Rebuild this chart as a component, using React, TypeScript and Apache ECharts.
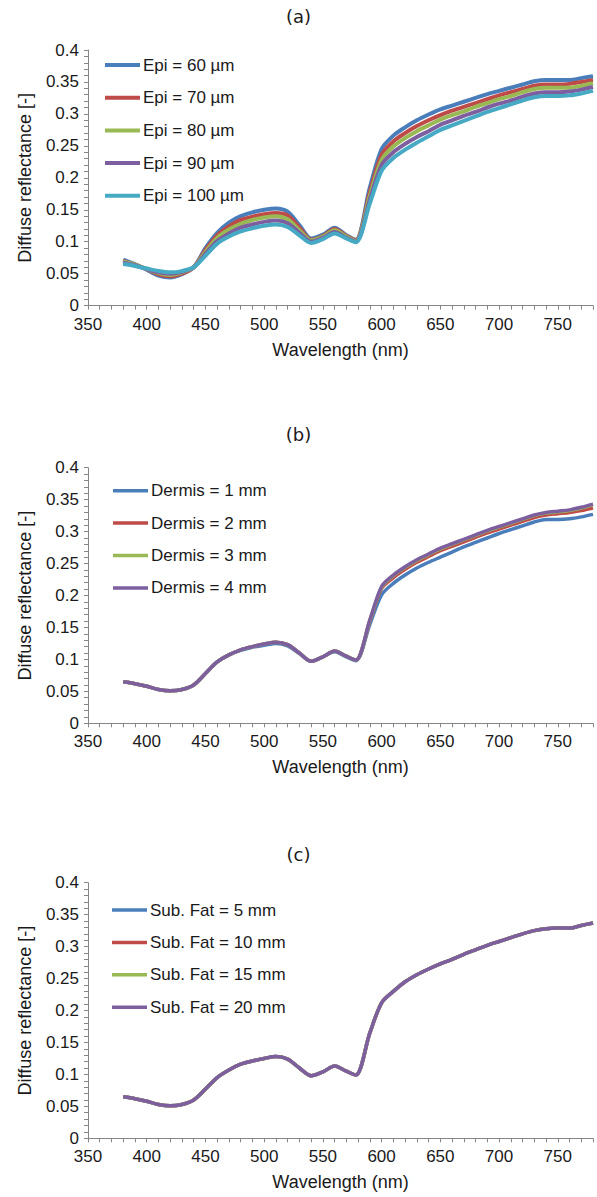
import React, { useEffect, useRef } from "react";
import * as echarts from "echarts";

// Wavelengths (nm)
const wavelengths = [380, 390, 400, 410, 420, 430, 440, 450, 460, 470, 480, 490, 500, 510, 520, 530, 540, 550, 560, 570, 578, 590, 600, 610, 620, 630, 640, 650, 660, 670, 680, 690, 700, 710, 720, 730, 740, 750, 760, 770, 780];

// Panel (a): epidermis thickness
const epi60 = [0.072, 0.065, 0.056, 0.047, 0.044, 0.049, 0.060, 0.090, 0.114, 0.130, 0.140, 0.146, 0.150, 0.152, 0.147, 0.126, 0.105, 0.111, 0.122, 0.110, 0.103, 0.185, 0.245, 0.266, 0.279, 0.290, 0.299, 0.307, 0.313, 0.319, 0.325, 0.331, 0.336, 0.341, 0.346, 0.351, 0.353, 0.353, 0.353, 0.356, 0.359];
const epi70 = [0.070, 0.064, 0.057, 0.049, 0.046, 0.050, 0.060, 0.087, 0.110, 0.124, 0.134, 0.139, 0.143, 0.145, 0.141, 0.122, 0.103, 0.109, 0.120, 0.109, 0.102, 0.178, 0.236, 0.257, 0.270, 0.281, 0.290, 0.298, 0.305, 0.311, 0.317, 0.323, 0.329, 0.334, 0.339, 0.344, 0.346, 0.346, 0.347, 0.350, 0.353];
const epi80 = [0.069, 0.064, 0.057, 0.051, 0.048, 0.052, 0.060, 0.084, 0.106, 0.119, 0.128, 0.134, 0.138, 0.140, 0.135, 0.118, 0.102, 0.108, 0.118, 0.108, 0.101, 0.172, 0.228, 0.249, 0.262, 0.273, 0.282, 0.291, 0.298, 0.304, 0.311, 0.317, 0.323, 0.328, 0.334, 0.339, 0.341, 0.341, 0.341, 0.344, 0.348];
const epi90 = [0.067, 0.063, 0.057, 0.052, 0.050, 0.053, 0.060, 0.081, 0.101, 0.113, 0.122, 0.127, 0.131, 0.133, 0.129, 0.114, 0.100, 0.106, 0.115, 0.106, 0.100, 0.166, 0.220, 0.240, 0.253, 0.264, 0.273, 0.283, 0.290, 0.297, 0.303, 0.310, 0.316, 0.321, 0.327, 0.332, 0.334, 0.334, 0.335, 0.338, 0.342];
const epi100 = [0.065, 0.062, 0.058, 0.054, 0.052, 0.054, 0.060, 0.078, 0.097, 0.108, 0.116, 0.121, 0.125, 0.127, 0.123, 0.110, 0.098, 0.104, 0.113, 0.105, 0.099, 0.160, 0.211, 0.231, 0.244, 0.255, 0.265, 0.275, 0.282, 0.289, 0.296, 0.303, 0.309, 0.315, 0.321, 0.326, 0.328, 0.328, 0.329, 0.332, 0.336];

// Panel (b): dermis thickness
const dermis1 = [0.065, 0.062, 0.058, 0.053, 0.051, 0.053, 0.060, 0.078, 0.096, 0.107, 0.114, 0.119, 0.122, 0.125, 0.121, 0.109, 0.097, 0.104, 0.112, 0.104, 0.098, 0.155, 0.201, 0.219, 0.232, 0.243, 0.252, 0.260, 0.268, 0.276, 0.283, 0.290, 0.297, 0.303, 0.309, 0.315, 0.319, 0.319, 0.320, 0.323, 0.327];
const dermis2 = [0.065, 0.062, 0.058, 0.053, 0.051, 0.053, 0.060, 0.078, 0.096, 0.107, 0.115, 0.120, 0.124, 0.127, 0.123, 0.110, 0.097, 0.104, 0.113, 0.105, 0.099, 0.160, 0.211, 0.228, 0.241, 0.252, 0.261, 0.270, 0.277, 0.284, 0.291, 0.298, 0.304, 0.310, 0.316, 0.322, 0.326, 0.328, 0.330, 0.333, 0.337];
const dermis3 = [0.065, 0.062, 0.058, 0.053, 0.051, 0.053, 0.060, 0.078, 0.096, 0.107, 0.115, 0.120, 0.124, 0.127, 0.123, 0.110, 0.097, 0.104, 0.113, 0.105, 0.099, 0.161, 0.213, 0.231, 0.244, 0.255, 0.264, 0.273, 0.280, 0.287, 0.294, 0.301, 0.307, 0.313, 0.319, 0.325, 0.329, 0.331, 0.333, 0.337, 0.342];
const dermis4 = [0.065, 0.062, 0.058, 0.053, 0.051, 0.053, 0.060, 0.078, 0.096, 0.107, 0.115, 0.120, 0.124, 0.127, 0.123, 0.110, 0.097, 0.104, 0.113, 0.105, 0.099, 0.162, 0.214, 0.232, 0.245, 0.256, 0.265, 0.274, 0.281, 0.288, 0.295, 0.302, 0.308, 0.314, 0.320, 0.326, 0.330, 0.332, 0.334, 0.338, 0.343];

// Panel (c): subcutaneous fat thickness (curves coincide)
const fat5 = [0.065, 0.062, 0.058, 0.053, 0.051, 0.053, 0.060, 0.077, 0.095, 0.107, 0.116, 0.121, 0.125, 0.128, 0.124, 0.110, 0.098, 0.104, 0.113, 0.105, 0.099, 0.165, 0.212, 0.230, 0.245, 0.256, 0.265, 0.273, 0.280, 0.288, 0.295, 0.302, 0.308, 0.314, 0.320, 0.325, 0.328, 0.329, 0.329, 0.333, 0.337];
const fat10 = [0.065, 0.062, 0.058, 0.053, 0.051, 0.053, 0.060, 0.077, 0.095, 0.107, 0.116, 0.121, 0.125, 0.128, 0.124, 0.110, 0.098, 0.104, 0.113, 0.105, 0.099, 0.165, 0.212, 0.230, 0.245, 0.256, 0.265, 0.273, 0.280, 0.288, 0.295, 0.302, 0.308, 0.314, 0.320, 0.325, 0.328, 0.329, 0.329, 0.333, 0.337];
const fat15 = [0.065, 0.062, 0.058, 0.053, 0.051, 0.053, 0.060, 0.077, 0.095, 0.107, 0.116, 0.121, 0.125, 0.128, 0.124, 0.110, 0.098, 0.104, 0.113, 0.105, 0.099, 0.165, 0.212, 0.230, 0.245, 0.256, 0.265, 0.273, 0.280, 0.288, 0.295, 0.302, 0.308, 0.314, 0.320, 0.325, 0.328, 0.329, 0.329, 0.333, 0.337];
const fat20 = [0.065, 0.062, 0.058, 0.053, 0.051, 0.053, 0.060, 0.077, 0.095, 0.107, 0.116, 0.121, 0.125, 0.128, 0.124, 0.110, 0.098, 0.104, 0.113, 0.105, 0.099, 0.165, 0.212, 0.230, 0.245, 0.256, 0.265, 0.273, 0.280, 0.288, 0.295, 0.302, 0.308, 0.314, 0.320, 0.325, 0.328, 0.329, 0.329, 0.333, 0.337];

const panelTitles = ["(a)", "(b)", "(c)"];
const epiNames = ["Epi = 60 µm", "Epi = 70 µm", "Epi = 80 µm", "Epi = 90 µm", "Epi = 100 µm"];
const dermisNames = ["Dermis = 1 mm", "Dermis = 2 mm", "Dermis = 3 mm", "Dermis = 4 mm"];
const fatNames = ["Sub. Fat = 5 mm", "Sub. Fat = 10 mm", "Sub. Fat = 15 mm", "Sub. Fat = 20 mm"];
const xAxisName = "Wavelength (nm)";
const yAxisName = "Diffuse reflectance [-]";

const COLORS = ["#4A7EBB", "#BE4B48", "#98B954", "#7D5FA0", "#46AAC5"];
const FONT = "'Liberation Sans', Arial, sans-serif";
const TEXT = "#1a1a1a";
const AXIS = "#868686";

const gridTops = [50, 467.7, 882.7];
const titleTops = [7, 425, 845];
const legendTops = [55, 480.7, 900];
const legendLefts = [105, 113, 112];

export default function App() {
  const ref = useRef<HTMLDivElement>(null);
  useEffect(() => {
    if (!ref.current) return;
    const chart = echarts.init(ref.current, undefined, { renderer: "svg" });

    const panels = [
      { names: epiNames, data: [epi60, epi70, epi80, epi90, epi100], width: 4 },
      { names: dermisNames, data: [dermis1, dermis2, dermis3, dermis4], width: 3.5 },
      { names: fatNames, data: [fat5, fat10, fat15, fat20], width: 3.5 },
    ];

    const grid = gridTops.map((t) => ({ left: 88, top: t, width: 505, height: 255.6, containLabel: false }));
    const xAxis = gridTops.map((_, i) => ({
      type: "value",
      gridIndex: i,
      min: 350,
      max: 780,
      interval: 10,
      name: xAxisName,
      nameLocation: "middle",
      nameGap: 35,
      nameTextStyle: { fontFamily: FONT, fontSize: 18, color: TEXT },
      axisLine: { show: true, onZero: false, lineStyle: { color: AXIS, width: 1 } },
      axisTick: { show: true, length: 4, lineStyle: { color: AXIS } },
      axisLabel: {
        fontFamily: FONT,
        fontSize: 17,
        color: TEXT,
        margin: 10,
        formatter: (v: number) => (Math.round(v) % 50 === 0 ? String(Math.round(v)) : ""),
      },
      splitLine: { show: false },
    }));
    const yAxis = gridTops.map((_, i) => ({
      type: "value",
      gridIndex: i,
      min: 0,
      max: 0.4,
      interval: 0.01,
      name: yAxisName,
      nameLocation: "middle",
      nameGap: 54,
      nameTextStyle: { fontFamily: FONT, fontSize: 18, color: TEXT },
      axisLine: { show: true, lineStyle: { color: AXIS, width: 1 } },
      axisTick: { show: true, length: 4, lineStyle: { color: AXIS } },
      axisLabel: {
        fontFamily: FONT,
        fontSize: 17,
        color: TEXT,
        margin: 9,
        formatter: (v: number) => {
          const k = Math.round(v * 100);
          return k % 5 === 0 ? String(k / 100) : "";
        },
      },
      splitLine: { show: false },
    }));

    const series: any[] = [];
    panels.forEach((p, pi) => {
      p.names.forEach((name, si) => {
        series.push({
          type: "line",
          name,
          xAxisIndex: pi,
          yAxisIndex: pi,
          data: wavelengths.map((w, k) => [w, p.data[si][k]]),
          showSymbol: false,
          symbol: "none",
          smooth: 0.3,
          lineStyle: { color: COLORS[si], width: p.width },
          itemStyle: { color: COLORS[si] },
          z: 2 + si,
        });
      });
    });

    const legend = panels.map((p, pi) => ({
      data: p.names,
      orient: "vertical",
      left: legendLefts[pi],
      top: legendTops[pi],
      padding: 0,
      icon: "rect",
      itemWidth: 35,
      itemHeight: pi === 0 ? 4 : 3.5,
      itemGap: pi === 0 ? 12.7 : 12.4,
      selectedMode: false,
      textStyle: { fontFamily: FONT, fontSize: 17, color: TEXT, lineHeight: 20, padding: [0, 0, 0, -2] },
    }));

    const title = panelTitles.map((t, i) => ({
      text: t,
      left: "center",
      top: titleTops[i],
      padding: 0,
      textStyle: { fontFamily: "'DejaVu Sans', sans-serif", fontWeight: "normal", fontSize: 18, color: TEXT },
    }));

    chart.setOption({
      animation: false,
      backgroundColor: "#ffffff",
      title,
      legend,
      grid,
      xAxis,
      yAxis,
      series,
    });
    return () => chart.dispose();
  }, []);

  return (
    <div
      ref={ref}
      style={{ position: "fixed", left: 0, top: 0, width: 597, height: 1197, background: "#fff" }}
    />
  );
}
